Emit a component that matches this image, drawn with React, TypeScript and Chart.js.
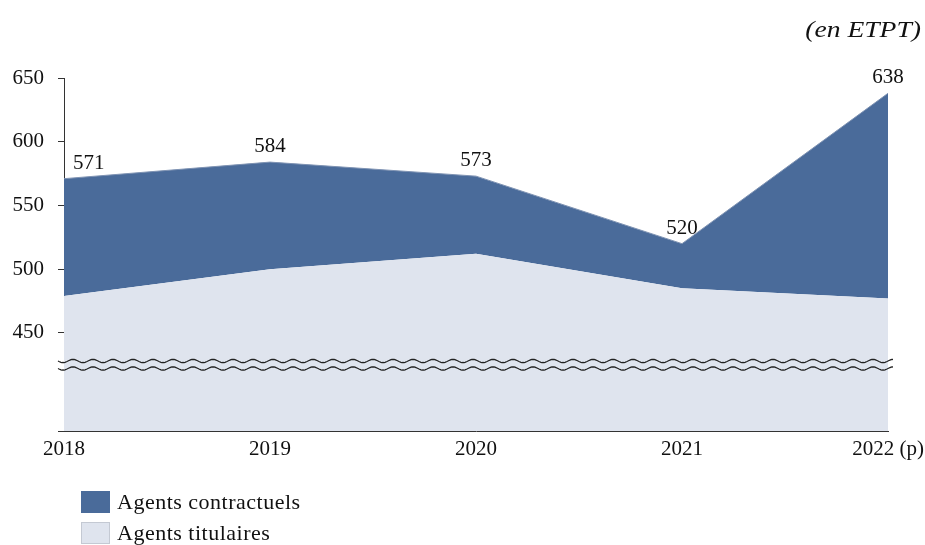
import React, { useEffect, useRef } from "react";
import { Chart, registerables } from "chart.js";

Chart.register(...registerables);

const years = ["2018", "2019", "2020", "2021", "2022 (p)"];
const titulaires = [479, 500, 512, 485, 477];
const contractuels = [92, 84, 61, 35, 161];
const totals = [571, 584, 573, 520, 638];
const yTicks = [450, 500, 550, 600, 650];
const yMin = 373;
const yMax = 650;

const DARK = "#4A6B9A";
const LIGHT = "#DFE4EE";
const FONT = "'Liberation Serif', 'Times New Roman', serif";

const overlayPlugin = {
  id: "overlay",
  afterDatasetsDraw(chart: any) {
    const ctx = chart.ctx;
    const x = chart.scales.x;
    const y = chart.scales.y;
    // broken-axis waves
    ctx.save();
    ctx.strokeStyle = "#222";
    ctx.lineWidth = 1.3;
    const x0 = chart.chartArea.left - 6;
    const x1 = chart.chartArea.right + 5;
    [361, 368.5].forEach((yy) => {
      ctx.beginPath();
      for (let px = x0; px <= x1; px += 1) {
        const py = yy + 1.6 * Math.sin(((px - x0) / 20) * Math.PI * 2);
        if (px === x0) ctx.moveTo(px, py);
        else ctx.lineTo(px, py);
      }
      ctx.stroke();
    });
    // data labels
    ctx.fillStyle = "#111";
    ctx.font = `21px ${FONT}`;
    ctx.textBaseline = "bottom";
    totals.forEach((v, i) => {
      const px = x.getPixelForValue(i);
      const py = y.getPixelForValue(v);
      if (i === 0) {
        ctx.textAlign = "left";
        ctx.fillText(String(v), px + 9, py - 5);
      } else {
        ctx.textAlign = "center";
        ctx.fillText(String(v), px, py - 5);
      }
    });
    // unit
    ctx.font = `italic 23px ${FONT}`;
    ctx.textAlign = "right";
    ctx.textBaseline = "alphabetic";
    ctx.translate(921, 37);
    ctx.scale(1.2, 1);
    ctx.fillText("(en ETPT)", 0, 0);
    ctx.restore();
  },
};

export default function App() {
  const ref = useRef<HTMLCanvasElement>(null);
  useEffect(() => {
    if (!ref.current) return;
    const chart = new Chart(ref.current, {
      type: "line",
      data: {
        labels: years,
        datasets: [
          {
            label: "Agents titulaires",
            data: titulaires,
            backgroundColor: LIGHT,
            borderColor: LIGHT,
            borderWidth: 0,
            pointRadius: 0,
            fill: "start",
            tension: 0,
          },
          {
            label: "Agents contractuels",
            data: contractuels,
            backgroundColor: DARK,
            borderColor: "#7f93b3",
            borderWidth: 1,
            pointRadius: 0,
            fill: "-1",
            tension: 0,
          },
        ],
      },
      options: {
        animation: false,
        responsive: false,
        maintainAspectRatio: false,
        layout: { padding: { top: 78, right: 37, left: 0, bottom: 0 } },
        plugins: { legend: { display: false }, tooltip: { enabled: false }, title: { display: false } },
        scales: {
          x: {
            offset: false,
            grid: { display: false, drawTicks: false },
            border: { display: true, color: "#333", width: 1 },
            ticks: { color: "#111", font: { family: FONT, size: 21 }, padding: 6, maxRotation: 0 },
            afterFit(s: any) {
              s.height = 114;
              s.paddingLeft = 0;
              s.paddingRight = 0;
            },
          },
          y: {
            stacked: true,
            min: yMin,
            max: yMax,
            grid: { drawOnChartArea: false, drawTicks: true, tickLength: 6, color: "#333" },
            border: { display: true, color: "#333", width: 1 },
            ticks: {
              color: "#111",
              font: { family: FONT, size: 21 },
              padding: 14,
              callback: (v: any) => (yTicks.includes(Number(v)) ? String(v) : ""),
            },
            afterBuildTicks(s: any) {
              s.ticks = [yMin, ...yTicks].map((v) => ({ value: v }));
            },
            afterFit(s: any) {
              s.width = 64;
              s.paddingTop = 0;
              s.paddingBottom = 0;
            },
          },
        },
      },
      plugins: [overlayPlugin],
    });
    return () => chart.destroy();
  }, []);

  const legendItems = [
    { label: "Agents contractuels", color: DARK, border: DARK, top: 491 },
    { label: "Agents titulaires", color: LIGHT, border: "#c4c9d3", top: 522 },
  ];

  return (
    <div style={{ position: "fixed", left: 0, top: 0, width: 925, height: 545, background: "#fff" }}>
      <canvas ref={ref} width={925} height={545} style={{ position: "absolute", left: 0, top: 0 }} />
      {legendItems.map((it) => (
        <div key={it.label} style={{ position: "absolute", left: 81, top: it.top, height: 22, display: "flex", alignItems: "center" }}>
          <div style={{ width: 27, height: 20, background: it.color, border: `1px solid ${it.border}` }} />
          <span style={{ marginLeft: 7, fontFamily: FONT, fontSize: 22, letterSpacing: "0.5px", color: "#111", lineHeight: "22px", whiteSpace: "nowrap" }}>{it.label}</span>
        </div>
      ))}
    </div>
  );
}
